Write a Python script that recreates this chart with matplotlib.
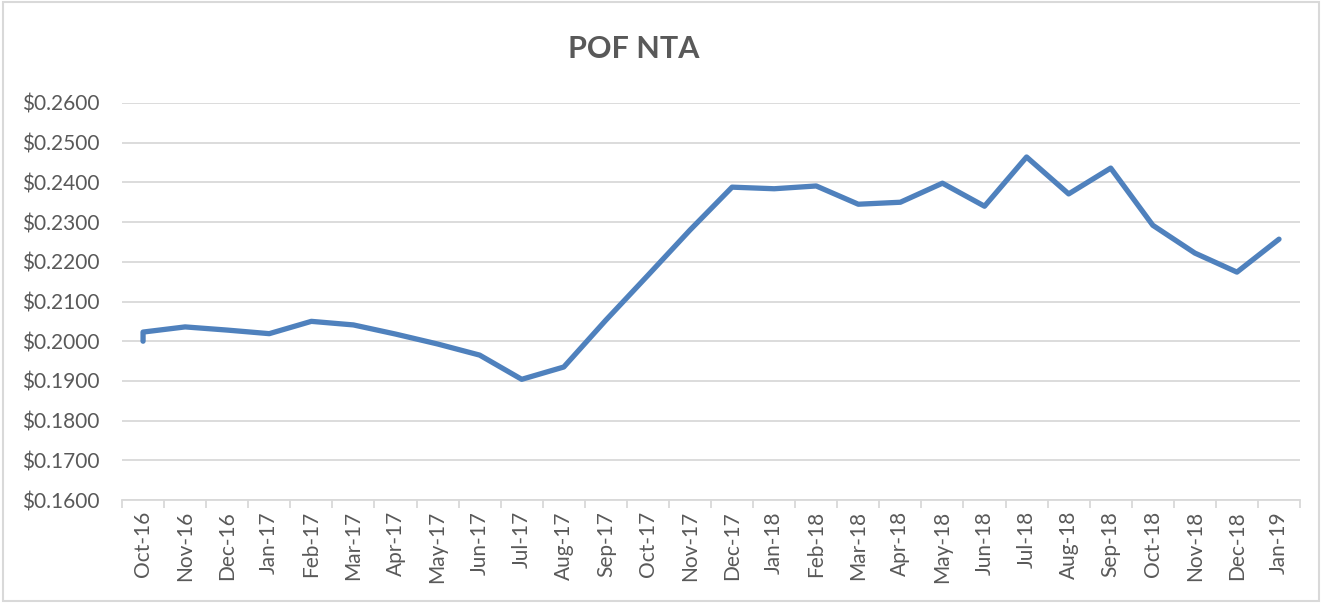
import matplotlib
matplotlib.use("Agg")
import matplotlib.pyplot as plt
from matplotlib.ticker import FuncFormatter, FixedLocator
from matplotlib.patches import Rectangle

months = ["Oct-16", "Nov-16", "Dec-16", "Jan-17", "Feb-17", "Mar-17", "Apr-17",
          "May-17", "Jun-17", "Jul-17", "Aug-17", "Sep-17", "Oct-17", "Nov-17",
          "Dec-17", "Jan-18", "Feb-18", "Mar-18", "Apr-18", "May-18", "Jun-18",
          "Jul-18", "Aug-18", "Sep-18", "Oct-18", "Nov-18", "Dec-18", "Jan-19"]

# two readings fall in Oct-16, so the month index is repeated
month_idx = [0, 0, 1, 2, 3, 4, 5, 6, 7, 8, 9, 10, 11, 12, 13, 14,
             15, 16, 17, 18, 19, 20, 21, 22, 23, 24, 25, 26, 27]
nta = [0.2000, 0.2023, 0.2036, 0.2028, 0.2019, 0.2050, 0.2041, 0.2018,
       0.1993, 0.1965, 0.1904, 0.1935, 0.2053, 0.2166, 0.2280, 0.2388,
       0.2384, 0.2391, 0.2345, 0.2350, 0.2398, 0.2340, 0.2464, 0.2371,
       0.2436, 0.2292, 0.2222, 0.2174, 0.2257]

grey_text = "#595959"
grid_col = "#D9D9D9"
font = ["Lato", "DejaVu Sans"]

fig = plt.figure(figsize=(13.22, 6.03), dpi=100)
fig.patches.append(Rectangle((0.002, 0.003), 0.996, 0.994, transform=fig.transFigure,
                             fill=False, edgecolor=grid_col, linewidth=1.5))

ax = fig.add_axes([0.0923, 0.1708, 0.8911, 0.6584])
ax.plot(month_idx, nta, color="#4F81BD", linewidth=3.8,
        solid_capstyle="round", solid_joinstyle="round", zorder=3)

ax.set_xlim(-0.5, len(months) - 0.5)
ax.set_ylim(0.16, 0.26)
ax.set_yticks([0.16 + 0.01 * i for i in range(11)])
ax.yaxis.set_major_formatter(FuncFormatter(lambda v, p: "${:.4f}".format(v)))
ax.yaxis.grid(True, color=grid_col, linewidth=1.3)
ax.set_axisbelow(True)

ax.set_xticks(range(len(months)))
ax.set_xticklabels(months, rotation=90, fontsize=15, color=grey_text, family=font)
ax.xaxis.set_minor_locator(FixedLocator([i - 0.5 for i in range(len(months) + 1)]))
ax.tick_params(axis="x", which="major", length=0, pad=8)
ax.tick_params(axis="x", which="minor", length=6, color=grid_col, width=1.3)
ax.tick_params(axis="y", length=0, pad=16)
for lbl in ax.get_yticklabels():
    lbl.set_fontsize(15)
    lbl.set_color(grey_text)
    lbl.set_family(font)

for side in ["top", "right", "left"]:
    ax.spines[side].set_visible(False)
ax.spines["bottom"].set_color(grid_col)
ax.spines["bottom"].set_linewidth(1.3)

fig.text(0.479, 0.918, "POF NTA", ha="center", va="center", fontsize=22,
         fontweight="bold", color=grey_text, family=font)

fig.savefig("out.png", dpi=100)
